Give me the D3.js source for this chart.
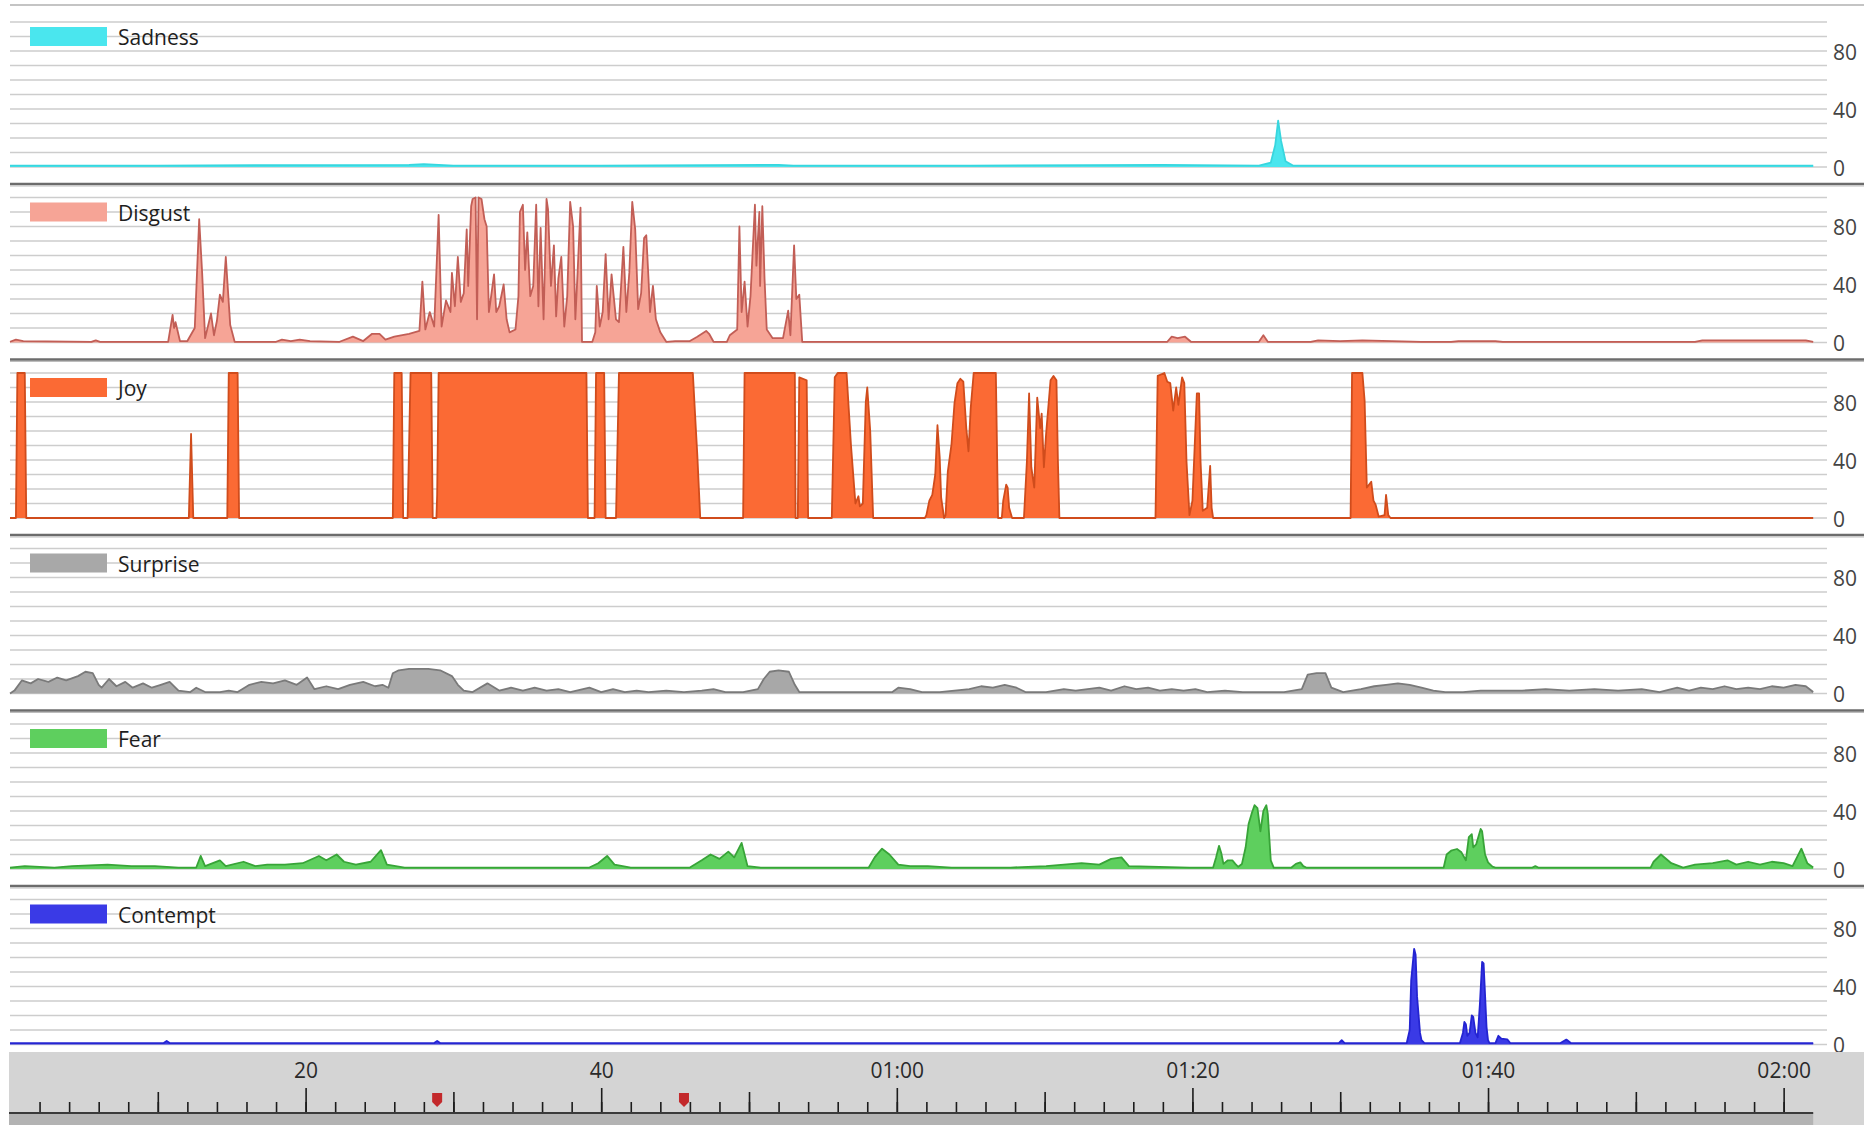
<!DOCTYPE html>
<html>
<head>
<meta charset="utf-8">
<script src="https://cdn.jsdelivr.net/npm/d3@7"></script>
<style>
  body { margin: 0; background: #ffffff; }
  svg { display: block; font-family: "Open Sans", sans-serif; }
</style>
</head>
<body>
<div id="chart"></div>
<script>
// emotion channels, top to bottom
const names = ["Sadness", "Disgust", "Joy", "Surprise", "Fear", "Contempt"];

// [seconds, value]
const sadness = [[0,1],[10,1],[27,1.5],[28,2],[30,1],[40,1],[52,1.5],[53,1],[65,1],[78,1.5],[84.5,1],
  [85.3,3],[85.6,15],[85.8,32],[86,18],[86.3,4],[86.8,1],[100,1],[122,1]];

const disgust = [[0,0.5],[0.4,2],[0.9,1],[5.5,0.5],[5.8,1.5],[6.1,0.5],[10.7,0.5],[11.0,19],[11.1,10],[11.2,14],
  [11.5,1],[12.0,1],[12.5,10],[12.8,85],[13.0,48],[13.2,3],[13.6,20],[13.8,5],[14.0,15],[14.2,33],[14.4,28],
  [14.6,59],[14.9,12],[15.2,0.5],[18.0,0.5],[18.4,2],[19.0,1],[19.6,2],[20.3,1],[22.3,0.5],[23.2,4],[23.9,1],
  [24.5,6],[25.0,6],[25.4,2],[26.0,4],[27.0,6],[27.7,8],[27.9,42],[28.1,9],[28.4,21],[28.7,11],[29.0,88],
  [29.2,11],[29.5,29],[29.8,21],[29.9,48],[30.1,25],[30.3,59],[30.5,28],[30.7,34],[30.9,78],[31.0,39],
  [31.2,94],[31.3,99],[31.5,100],[31.6,16],[31.7,100],[31.9,99],[32.1,85],[32.25,80],[32.4,21],[32.5,28],
  [32.75,47],[32.9,21],[33.1,25],[33.4,40],[33.6,16],[33.8,7],[34.2,9],[34.4,32],[34.5,90],[34.7,95],
  [34.85,50],[35.0,76],[35.2,32],[35.4,39],[35.6,95],[35.75,25],[35.9,79],[36.1,16],[36.3,99],[36.4,92],
  [36.6,39],[36.8,67],[36.95,18],[37.1,44],[37.3,59],[37.5,11],[37.7,32],[37.9,97],[38.1,80],[38.25,16],
  [38.4,48],[38.6,93],[38.7,0.5],[39.4,0.5],[39.6,7],[39.7,39],[39.9,11],[40.1,21],[40.3,61],[40.5,16],
  [40.7,47],[41.0,16],[41.2,14],[41.5,66],[41.7,21],[41.9,48],[42.1,97],[42.3,78],[42.5,23],[42.7,34],
  [42.9,72],[43.05,74],[43.2,44],[43.3,21],[43.5,39],[43.7,16],[44.0,7],[44.4,0.5],[45.0,1],[46.0,1],
  [46.5,4],[47.1,8],[47.3,6],[47.6,0.5],[48.5,0.5],[48.7,5],[49.2,9],[49.35,80],[49.5,21],[49.7,42],
  [49.9,11],[50.1,32],[50.4,95],[50.5,53],[50.7,90],[50.75,39],[50.9,94],[51.05,44],[51.2,9],[51.6,3],
  [52.3,3],[52.65,22],[52.8,5],[53.05,67],[53.2,30],[53.4,33],[53.6,0.5],[60,0.5],[70,0.5],[78.3,0.5],
  [78.6,4],[79.0,3],[79.5,4],[79.9,0.5],[84.5,0.5],[84.8,5],[85.1,0.5],[88.0,0.5],[88.5,1.5],[90,1],
  [91.5,1.5],[93.5,1],[95.5,0.5],[97.5,0.5],[98,1],[100.5,1],[101,0.5],[114,0.5],[114.5,1.5],[121.5,1.5],[122,0.5]];

const joy = [[0,0],[0.4,0],[0.5,100],[1.0,100],[1.1,0],[12.1,0],[12.25,58],[12.4,0],[14.7,0],[14.8,100],
  [15.4,100],[15.5,0],[25.9,0],[26.0,100],[26.5,100],[26.6,0],[26.9,0],[27.1,100],[28.5,100],[28.6,0],
  [28.85,0],[28.9,16],[29.0,100],[39.0,100],[39.1,0],[39.55,0],[39.65,100],[40.2,100],[40.3,0],[41.0,0],
  [41.2,100],[46.2,100],[46.4,62],[46.5,44],[46.7,0],[49.6,0],[49.7,100],[53.1,100],[53.15,0],[53.3,0],
  [53.4,97],[53.9,95],[54.0,0],[55.6,0],[55.8,97],[56.0,100],[56.6,100],[56.9,50],[57.2,10],[57.4,15],
  [57.5,8],[57.7,10],[57.9,80],[58.0,90],[58.2,60],[58.4,0],[61.9,0],[62.0,2],[62.2,12],[62.4,16],
  [62.6,30],[62.75,64],[62.9,42],[63.0,14],[63.2,0],[63.3,2],[63.45,32],[63.7,51],[63.9,79],[64.1,93],
  [64.3,96],[64.5,94],[64.7,62],[64.85,46],[65.0,76],[65.2,100],[66.7,100],[66.85,0],[67.1,0],[67.2,12],
  [67.4,23],[67.5,21],[67.6,7],[67.8,0],[68.6,0],[68.8,39],[68.95,86],[69.1,35],[69.3,21],[69.5,83],
  [69.7,62],[69.8,72],[69.95,35],[70.1,58],[70.4,95],[70.6,98],[70.8,95],[70.9,39],[71.0,0],[77.5,0],
  [77.65,98],[78.1,100],[78.3,94],[78.5,93],[78.7,74],[78.9,90],[79.05,78],[79.3,97],[79.45,93],[79.6,39],
  [79.8,2],[80.0,12],[80.15,49],[80.3,86],[80.45,86],[80.55,39],[80.7,5],[81.0,7],[81.2,36],[81.3,7],
  [81.4,0],[90.7,0],[90.8,100],[91.5,100],[91.65,81],[91.8,21],[92.1,25],[92.25,12],[92.4,9],[92.6,1],
  [93.0,2],[93.1,16],[93.25,2],[93.4,0],[122,0]];

const surprise = [[0,0],[0.3,2],[0.8,9],[1.4,7],[1.9,10],[2.6,8],[3.2,11],[3.8,9],[4.6,12],[5.1,15],[5.6,14],
  [6.0,6],[6.2,4],[6.7,10],[7.2,5],[7.8,8],[8.3,4],[9.0,7],[9.6,4],[10.2,6],[10.8,8],[11.4,2],[12.2,1],
  [12.6,4],[13.2,1],[14.2,1],[14.8,2],[15.4,1],[16.2,6],[17.0,8],[17.8,7],[18.6,9],[19.4,6],[20.1,11],
  [20.6,3],[21.4,5],[22.2,3],[23.0,6],[23.9,8],[24.7,5],[25.2,6],[25.6,4],[25.9,14],[26.3,16],[27.0,17],
  [28.3,17],[29.1,16],[29.9,12],[30.3,6],[30.7,2],[31.3,1],[32.3,7],[33.1,2],[33.9,4],[34.7,2],[35.5,4],
  [36.3,2],[37.1,3],[37.9,1],[39.2,4],[40.0,1],[40.8,3],[41.6,1],[42.4,2],[43.2,1],[44.4,2],[45.6,1],
  [46.8,2],[47.6,3],[48.4,1],[49.6,1],[50.6,3],[51.0,10],[51.4,15],[52.0,16],[52.7,15],[53.1,6],[53.4,1],
  [59.7,1],[60.1,4],[60.9,3],[61.7,1],[62.9,1],[64.9,3],[65.7,5],[66.5,4],[67.3,6],[68.1,4],[68.7,1],
  [70.1,1],[71.3,3],[72.1,2],[72.9,3],[73.7,4],[74.5,2],[75.4,5],[76.2,3],[77.0,4],[77.8,2],[78.6,3],
  [79.4,2],[80.2,3],[81.0,1],[82.2,2],[83.4,1],[84.6,1],[86.2,1],[87.4,3],[87.8,13],[88.4,14],[89.0,14],
  [89.4,4],[90.2,1],[91.4,3],[92.3,5],[93.1,6],[93.9,7],[94.7,6],[95.5,4],[96.3,2],[97.1,1],[98.3,1],
  [99.5,2],[100.7,2],[102.3,2],[103.9,3],[105.5,2],[107.2,3],[108.8,2],[110.4,3],[111.6,1],[112.8,4],
  [113.6,2],[114.4,4],[115.2,3],[116.0,5],[116.8,3],[117.6,4],[118.4,3],[119.2,5],[120.0,4],[120.8,6],
  [121.5,5],[122.0,1]];

const fear = [[0,1],[1.0,2],[3.0,1],[4.2,2],[6.6,3],[8.2,2],[9.8,2],[11.4,1],[12.6,1],[12.9,9],[13.2,2],
  [14.2,6],[14.6,2],[15.8,5],[16.6,2],[17.4,3],[18.6,3],[19.8,4],[20.9,9],[21.4,6],[22.1,10],[22.6,5],
  [23.4,3],[24.4,5],[25.1,13],[25.5,3],[26.7,1],[29.9,1],[39.2,1],[39.8,4],[40.4,9],[40.9,3],[42.0,1],
  [46.0,1],[46.8,6],[47.4,10],[48.0,7],[48.6,12],[49.0,8],[49.5,18],[49.9,2],[50.8,1],[58.1,1],[58.5,8],
  [59.0,14],[59.5,10],[60.1,3],[60.9,2],[62.1,2],[63.7,1],[67.7,1],[70.1,2],[71.3,3],[72.5,4],[73.7,3],
  [74.5,7],[75.2,8],[75.7,2],[79.8,1],[81.4,1],[81.6,8],[81.8,16],[81.95,11],[82.1,3.5],[82.4,6],[82.7,6],
  [82.9,3.5],[83.1,1.5],[83.35,3.5],[83.6,15],[83.8,31],[84.0,38],[84.2,44],[84.4,42],[84.6,26],[84.8,40],
  [85.0,44],[85.1,38],[85.3,6],[85.5,1],[86.7,1],[87.0,3.5],[87.3,4.6],[87.5,2],[87.7,1],[97.0,1],[97.2,10],
  [97.5,12.6],[97.9,13.8],[98.2,11.5],[98.5,6],[98.7,22],[98.9,24],[99.0,15],[99.2,17],[99.5,27.6],
  [99.6,26],[99.8,10],[100.0,4.6],[100.3,1.6],[100.5,1],[103.0,1],[103.2,2],[103.4,1],[111.0,1],[111.2,5],
  [111.7,10],[112.4,4],[113.2,1],[114.0,3],[115.2,4],[116.2,6],[116.8,3],[117.6,5],[118.4,3],[119.2,5],
  [120.0,4],[120.6,2],[121.2,14],[121.6,4],[122.0,1]];

const contempt = [[0,1],[10.4,1],[10.6,2.5],[10.8,1],[28.7,1],[28.9,2.5],[29.1,1],[89.9,1],[90.1,3],[90.3,1],
  [94.5,1],[94.7,10],[94.8,44],[95.0,66],[95.1,62],[95.2,33],[95.4,8],[95.5,3],[95.7,1],[98.1,1],[98.3,8],
  [98.4,15.6],[98.5,14],[98.6,6],[98.75,8],[98.9,20],[99.0,19],[99.15,8],[99.3,5],[99.45,28],[99.6,57],
  [99.7,56],[99.9,12],[100.0,3],[100.1,1],[100.5,1],[100.7,6],[100.9,4],[101.3,3.6],[101.5,1],[104.9,1],
  [105.3,3.4],[105.6,1],[122,1]];

const yTickLabels = [0, 40, 80];
const gridValues = [0, 10, 20, 30, 40, 50, 60, 70, 80, 90, 100];
const minorTicks = d3.range(2, 121, 2);
const midTicks = [10, 30, 50, 70, 90, 110];
const majorTicks = [20, 40, 60, 80, 100, 120];
const markerTimes = [28.9, 45.6];

const fills   = ["#4ae6ee", "#f6a496", "#fb6a34", "#a8a8a8", "#5ecf5e", "#3a3ae6"];
const strokes = ["#38d6de", "#c25e56", "#d04c1c", "#7a7a7a", "#38a438", "#2424d2"];

function timeFormat(t) {
  if (t < 60) return String(t);
  const m = Math.floor(t / 60), s = t % 60;
  return "0" + m + ":" + (s < 10 ? "0" : "") + s;
}

function drawChart() {
  const W = 1864, H = 1125;
  const panelH = 175.5, zero0 = 167, unitH = 1.45;
  const gridRight = 1827;
  const series = [sadness, disgust, joy, surprise, fear, contempt];

  const svg = d3.select("#chart").append("svg")
      .attr("width", W)
      .attr("height", H);

  const x = d3.scaleLinear().domain([0, 122]).range([10, 1813.2]);

  // top border
  svg.append("line")
      .attr("x1", 10).attr("x2", W).attr("y1", 5).attr("y2", 5)
      .style("stroke", "#c4c4c4").style("stroke-width", 2);

  series.forEach(function(data, i) {
    const zero = zero0 + panelH * i;
    const y = d3.scaleLinear().domain([0, 100]).range([zero, zero - 100 * unitH]);
    const g = svg.append("g").attr("class", "panel");

    g.selectAll(".grid")
        .data(gridValues)
        .enter()
        .append("line")
        .attr("class", "grid")
        .attr("x1", 10).attr("x2", gridRight)
        .attr("y1", function(d) { return y(d); })
        .attr("y2", function(d) { return y(d); })
        .style("stroke", "#cdcdcd")
        .style("stroke-width", 1.6);

    g.selectAll(".ylab")
        .data(yTickLabels)
        .enter()
        .append("text")
        .attr("class", "ylab")
        .attr("x", 1833)
        .attr("y", function(d) { return y(d); })
        .attr("dy", "0.42em")
        .style("font-size", "21px")
        .style("fill", "#444")
        .text(function(d) { return d; });

    const area = d3.area()
        .x(function(d) { return x(d[0]); })
        .y0(y(0))
        .y1(function(d) { return y(d[1]); });

    const line = d3.line()
        .x(function(d) { return x(d[0]); })
        .y(function(d) { return y(d[1]); });

    g.append("path")
        .datum(data)
        .attr("d", area)
        .style("fill", fills[i]);

    g.append("path")
        .datum(data)
        .attr("d", line)
        .style("fill", "none")
        .style("stroke", strokes[i])
        .style("stroke-width", 1.8)
        .style("stroke-linejoin", "round");

    // legend
    g.append("rect")
        .attr("x", 30).attr("y", zero - 140)
        .attr("width", 77).attr("height", 19)
        .style("fill", fills[i]);

    g.append("text")
        .attr("x", 118).attr("y", zero - 129)
        .attr("dy", "0.35em")
        .style("font-size", "21px")
        .style("fill", "#1e1e1e")
        .text(names[i]);

    if (i < series.length - 1) {
      const sy = zero + 17;
      g.append("line")
          .attr("x1", 10).attr("x2", W).attr("y1", sy).attr("y2", sy)
          .style("stroke", "#6c6c6c").style("stroke-width", 2.5);
      g.append("line")
          .attr("x1", 10).attr("x2", W).attr("y1", sy + 2).attr("y2", sy + 2)
          .style("stroke", "#bdbdbd").style("stroke-width", 1);
    }
  });

  // time bar
  const base = 1113;
  svg.append("rect")
      .attr("x", 9).attr("y", 1052).attr("width", W - 9).attr("height", H - 1052)
      .style("fill", "#d4d4d4");
  svg.append("rect")
      .attr("x", 9).attr("y", base).attr("width", x(122) - 9).attr("height", H - base)
      .style("fill", "#b3b3b3");

  function tickAxis(values, size, labels) {
    const ax = d3.axisTop(x)
        .tickValues(values)
        .tickSize(size)
        .tickPadding(10)
        .tickFormat(labels ? timeFormat : "");
    const ga = svg.append("g")
        .attr("class", "xAxis")
        .attr("transform", "translate(0," + base + ")")
        .call(ax);
    ga.select(".domain").remove();
    ga.selectAll("line").style("stroke", "#1c1c1c").style("stroke-width", 1.6);
    ga.selectAll("text")
        .style("font-family", "'Open Sans', sans-serif")
        .style("font-size", "21px")
        .style("fill", "#2a2a2a");
    return ga;
  }

  tickAxis(minorTicks, 11, false);
  tickAxis(midTicks, 21, false);
  tickAxis(majorTicks, 25, true);

  svg.append("line")
      .attr("x1", 9).attr("x2", x(122)).attr("y1", base).attr("y2", base)
      .style("stroke", "#3a3a3a").style("stroke-width", 2);

  svg.selectAll(".marker")
      .data(markerTimes)
      .enter()
      .append("path")
      .attr("class", "marker")
      .attr("d", function(d) {
        const cx = x(d);
        return "M" + (cx - 5) + ",1093h10v9l-5,5l-5,-5z";
      })
      .style("fill", "#c3292b");
}

drawChart();
</script>
</body>
</html>
